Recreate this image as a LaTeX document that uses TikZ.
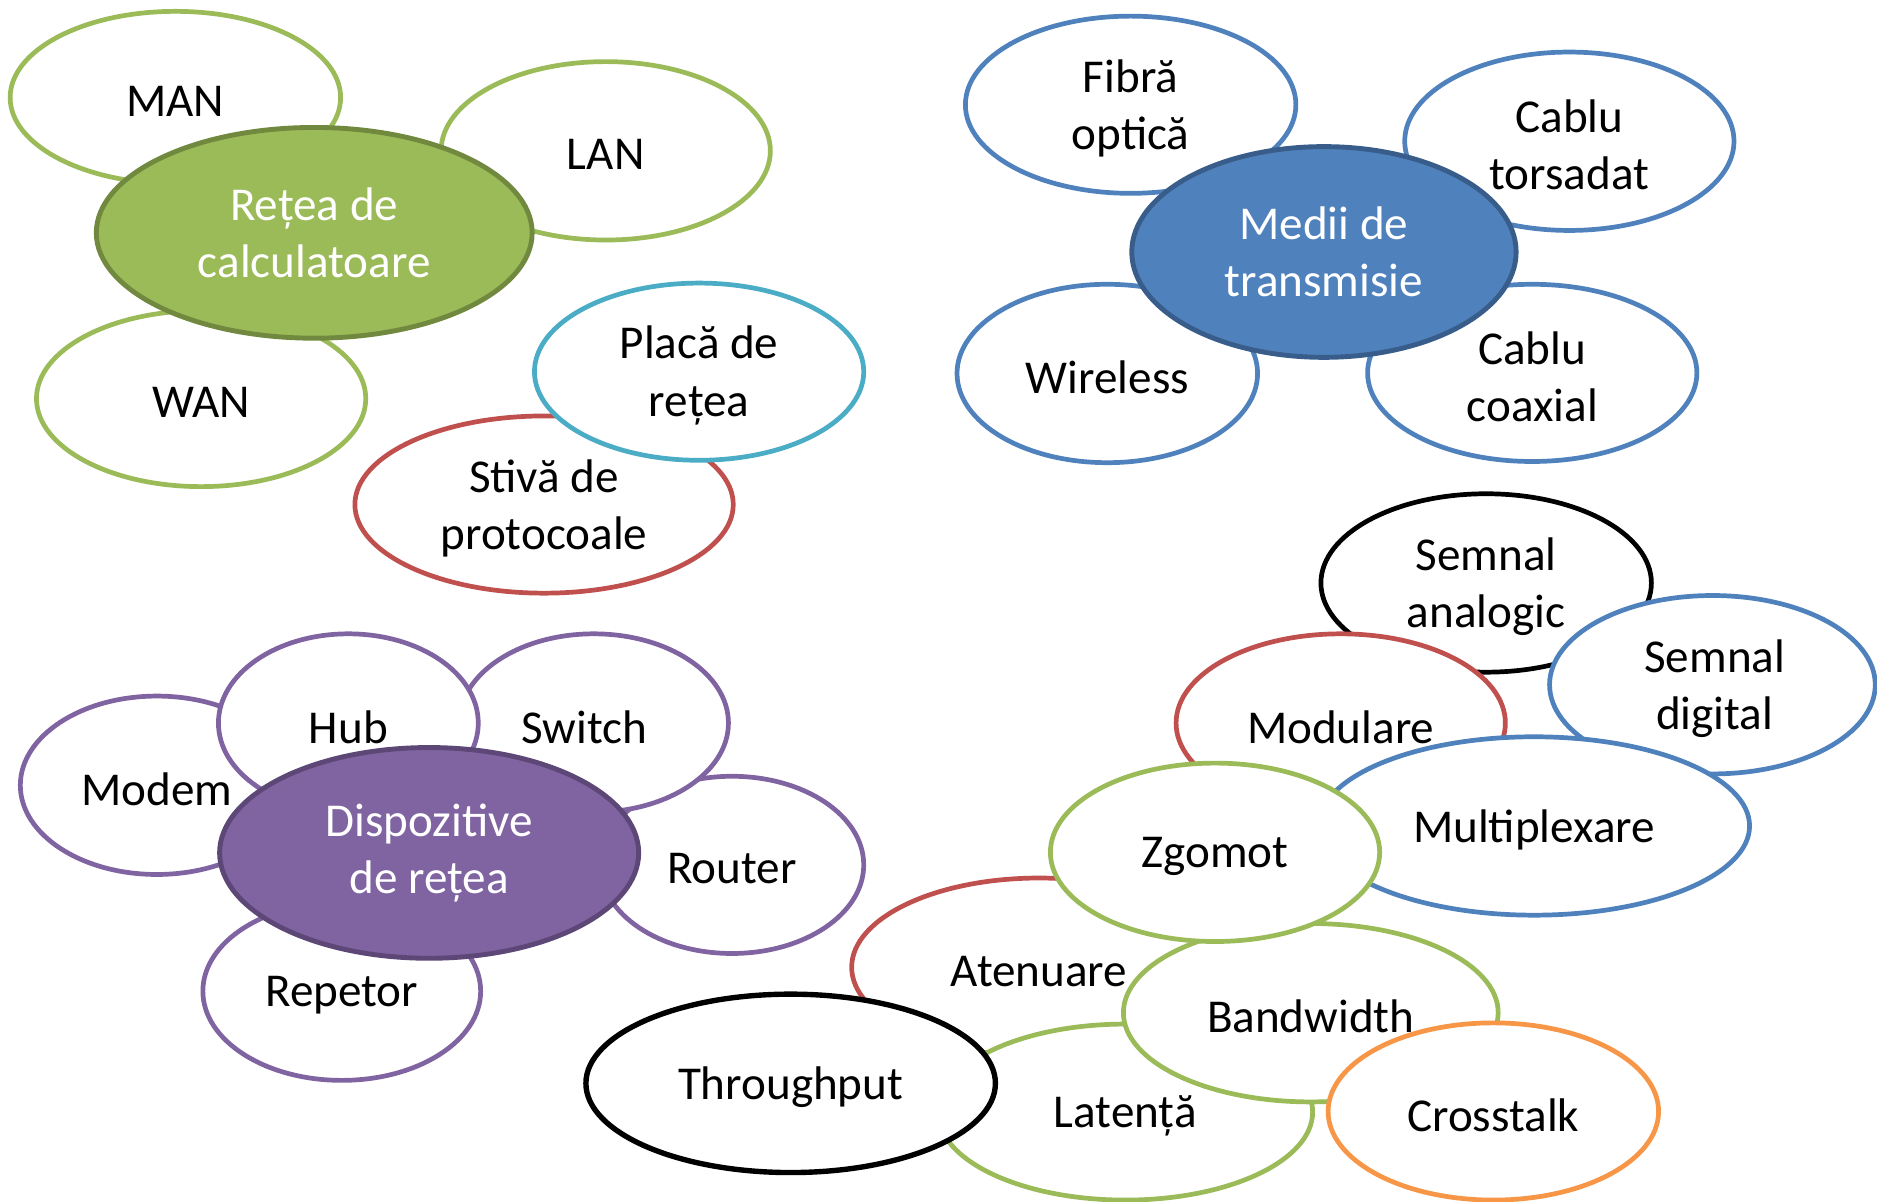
\documentclass[tikz,border=0pt]{standalone}
\usepackage{fontspec}
\setmainfont{Carlito}
\usetikzlibrary{shapes.geometric}
\definecolor{cgreen}{HTML}{9BBB59}
\definecolor{cgreend}{HTML}{71893F}
\definecolor{cblue}{HTML}{4F81BD}
\definecolor{cblued}{HTML}{385D8A}
\definecolor{cpurple}{HTML}{8064A2}
\definecolor{cpurpled}{HTML}{5C4776}
\definecolor{ccyan}{HTML}{4BACC6}
\definecolor{cred}{HTML}{C0504D}
\definecolor{corange}{HTML}{F79646}
\tikzset{
  bub/.style={ellipse, draw=#1, line width=2.8pt, fill=white, inner sep=0pt},
  lab/.style={align=center, inner sep=0pt, font=\fontsize{28}{34}\selectfont, text=black, yshift=-2.3pt},
  tx/.style={label={[lab]center:{#1}}},
  txs/.style 2 args={label={[lab, xshift=#2]center:{#1}}},
  hub/.style 2 args={ellipse, draw=#2, fill=#1, line width=2.9pt, inner sep=0pt, align=center,
    font=\fontsize{28}{34}\selectfont, text=white},
  sz/.style 2 args={minimum width=#1cm, minimum height=#2cm}
}
\begin{document}
\begin{tikzpicture}[x=0.025cm, y=-0.025cm]
\useasboundingbox (0,0) rectangle (1568,1004);
% group 1
\node[bub=cgreen, sz={6.9}{3.6}, tx={MAN}] (man) at (146.5,81.5) {};
\node[bub=cgreen, sz={6.875}{3.725}, tx={LAN}] (lan) at (506,126) {};
\node[bub=cgreen, sz={6.875}{3.675}, tx={WAN}] (wan) at (168,333) {};
\node[hub={cgreen}{cgreend}, sz={9.1}{4.4}] (retea) at (262.5,194.5) {Rețea de\\calculatoare};
\node[bub=cred, sz={7.9}{3.7}, tx={Stivă de\\protocoale}] (stiva) at (454.5,421.5) {};
\node[bub=ccyan, sz={6.875}{3.7}, tx={Placă de\\rețea}] (placa) at (584,310.5) {};
% group 2
\node[bub=cblue, sz={6.9}{3.7}, tx={Fibră\\optică}] (fibra) at (944.5,87.5) {};
\node[bub=cblue, sz={6.875}{3.725}, tx={Cablu\\torsadat}] (tors) at (1311,118) {};
\node[bub=cblue, sz={6.275}{3.725}, tx={Wireless}] (wire) at (925,312) {};
\node[bub=cblue, sz={6.875}{3.7}, tx={Cablu\\coaxial}] (coax) at (1280,311.5) {};
\node[hub={cblue}{cblued}, sz={8.025}{4.4}] (medii) at (1106,210.5) {Medii de\\transmisie};
% group 3
\node[bub=cpurple, sz={5.5}{3.7}, tx={Router}] (router) at (611.5,722.5) {};
\node[bub=cpurple, sz={5.625}{3.725}, txs={Switch}{-5.5pt}] (switch) at (496,604) {};
\node[bub=cpurple, sz={5.7}{3.725}, tx={Modem}] (modem) at (131,656) {};
\node[bub=cpurple, sz={5.425}{3.725}, tx={Hub}] (hubn) at (291,604) {};
\node[bub=cpurple, sz={5.8}{3.725}, tx={Repetor}] (repetor) at (285.5,828) {};
\node[hub={cpurple}{cpurpled}, sz={8.75}{4.4}] (disp) at (358.5,712.5) {Dispozitive\\de rețea};
% group 4
\node[bub=black, sz={6.9}{3.725}, tx={Semnal\\analogic}] (analog) at (1241.5,487) {};
\node[bub=cblue, sz={6.8}{3.725}, txs={Semnal\\digital}{1.4pt}] (digital) at (1430.5,572) {};
\node[bub=cred, sz={6.875}{3.725}, tx={Modulare}] (modul) at (1120,604) {};
\node[bub=cblue, sz={9.0}{3.725}, tx={Multiplexare}] (multi) at (1281.5,690) {};
\node[bub=cred, sz={7.825}{3.725}, tx={Atenuare}] (aten) at (868,808) {};
\node[bub=cgreen, sz={7.825}{3.675}, tx={Latență}] (lat) at (940,929) {};
\node[bub=cgreen, sz={7.825}{3.725}, tx={Bandwidth}] (band) at (1095,846) {};
\node[bub=cgreen, sz={6.875}{3.725}, tx={Zgomot}] (zgom) at (1015,712) {};
\node[bub=black, line width=3.2pt, sz={8.55}{3.725}, tx={Throughput}] (thr) at (660.5,905) {};
\node[bub=corange, sz={6.9}{3.7}, tx={Crosstalk}] (cross) at (1247.5,928.5) {};
\end{tikzpicture}
\end{document}
